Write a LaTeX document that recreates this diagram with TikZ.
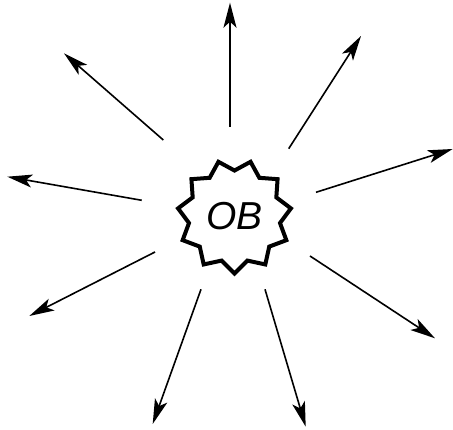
\documentclass[tikz,border=0pt]{standalone}
\usepackage{fontspec}
\newfontfamily\obfont{Liberation Sans}
\usetikzlibrary{arrows.meta,shapes.geometric}

\begin{document}
\begin{tikzpicture}[x=1pt,y=1pt,line join=miter,
	ray/.style={line width=1.6pt,-{Stealth[length=25pt,width=13pt,inset=6pt]}},
	burst/.style={draw,star,star points=11,star point ratio=1.24,shape border rotate=16.36,
		minimum size=114pt,line width=4pt,inner sep=0pt,font=\obfont\itshape\fontsize{39}{39}\selectfont}]
	\useasboundingbox (0,0) rectangle (453,430);
	% Hình giữa
	\node[burst] (ob) at (234.5,213.5) {OB};
	\coordinate (s1) at (230,303.3);   \coordinate (e1) at (230,427.3);
	\coordinate (s2) at (288.7,281.3); \coordinate (e2) at (361,394);
	\coordinate (s3) at (316,237.7);   \coordinate (e3) at (452.7,281);
	\coordinate (s4) at (310,174);     \coordinate (e4) at (435,91.7);
	\coordinate (s5) at (265,140.7);   \coordinate (e5) at (305.7,3.3);
	\coordinate (s6) at (201,140.7);   \coordinate (e6) at (152.7,6);
	\coordinate (s7) at (155,178);     \coordinate (e7) at (29.3,114);
	\coordinate (s8) at (141.7,229.7); \coordinate (e8) at (7.3,253.3);
	\coordinate (s9) at (163.3,290);   \coordinate (e9) at (64,376.7);
	\foreach \i in {1,...,9}
		\draw[ray] (s\i)--(e\i);
\end{tikzpicture}
\end{document}
